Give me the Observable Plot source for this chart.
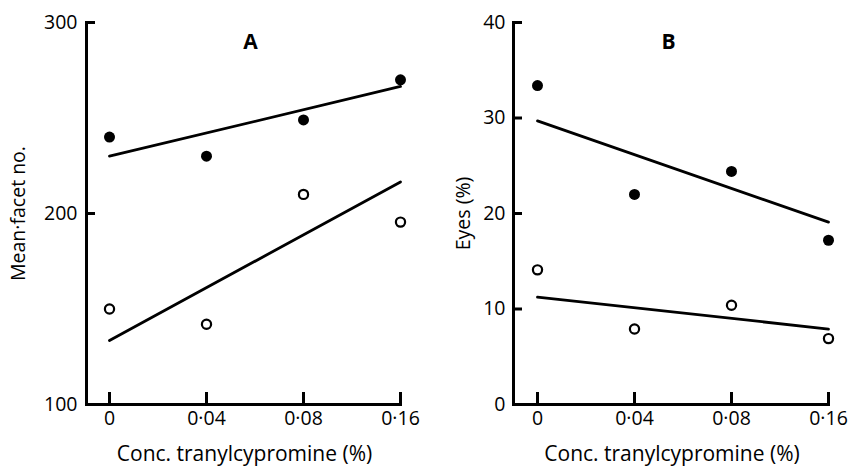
<!DOCTYPE html>
<html>
<head>
<meta charset="utf-8">
<script src="https://cdn.jsdelivr.net/npm/d3@7"></script>
<script src="https://cdn.jsdelivr.net/npm/@observablehq/plot@0.6"></script>
<style>
  html, body { margin: 0; padding: 0; background: #fff; }
  #wrap { position: relative; width: 851px; height: 469px; overflow: hidden; }
  .panel { position: absolute; top: 0; }
  .panel svg { font-family: "Open Sans", sans-serif; font-size: 19.5px; }
</style>
</head>
<body>
<div id="wrap">
  <div id="pa" class="panel" style="left:0px"></div>
  <div id="pb" class="panel" style="left:430px"></div>
</div>
<script>
// ---- data ----
const concLabels = ["0", "0·04", "0·08", "0·16"];

// Panel A: mean facet number
const facetFilled = [240, 230, 249, 270];
const facetOpen   = [150, 142, 210, 195.5];
const facetLineFilled = [230, 266.5];   // fitted line at 0 and 0·16
const facetLineOpen   = [133.5, 216.5];
const facetTicks = [100, 200, 300];

// Panel B: eyes (%)
const eyesFilled = [33.4, 22.0, 24.4, 17.2];
const eyesOpen   = [14.1, 7.9, 10.4, 6.9];
const eyesLineFilled = [29.7, 19.1];
const eyesLineOpen   = [11.25, 7.9];
const eyesTicks = [0, 10, 20, 30, 40];

const xTitle = "Conc. tranylcypromine (%)";

function pts(vals) { return vals.map((v, i) => ({c: concLabels[i], v})); }
function ends(vals) { return [{c: concLabels[0], v: vals[0]}, {c: concLabels[concLabels.length - 1], v: vals[1]}]; }

const H = 469, MT = 22, MB = 65;
const FH = H - MT - MB;

function panel(o) {
  const fw = o.width - o.marginLeft - o.marginRight;
  return Plot.plot({
    width: o.width, height: H,
    marginLeft: o.marginLeft, marginRight: o.marginRight, marginTop: MT, marginBottom: MB,
    x: {type: "point", domain: concLabels, range: o.xRange, padding: 0},
    y: {domain: o.yDomain},
    marks: [
      // spines
      Plot.frame({anchor: "left", strokeWidth: 3, stroke: "black"}),
      Plot.ruleY([o.yDomain[0]], {strokeWidth: 3, stroke: "black"}),
      // inward ticks
      Plot.tickY(o.yTicks, {y: d => d, insetRight: fw - 9, stroke: "black", strokeWidth: 3}),
      Plot.tickX(concLabels, {x: d => d, insetTop: FH - 12, stroke: "black", strokeWidth: 3}),
      // tick labels
      Plot.axisY(o.yTicks, {tickSize: 0, tickPadding: o.yPad, fontSize: 19.5, label: null}),
      Plot.axisX(concLabels, {tickSize: 0, tickPadding: 7, fontSize: 19.5, label: null}),
      // axis titles
      Plot.text([o.yLabel], {frameAnchor: "left", dx: o.yLabelDx, rotate: -90, textAnchor: "middle", lineAnchor: "middle", fontSize: 19.5}),
      Plot.text([xTitle], {frameAnchor: "bottom", dy: 50, textAnchor: "middle", lineAnchor: "middle", fontSize: 21}),
      // panel letter
      Plot.text([o.letter], {frameAnchor: "top-left", dx: o.letterDx, dy: 20, textAnchor: "middle", lineAnchor: "middle", fontSize: 21, fontWeight: "bold"}),
      // fitted lines
      Plot.line(ends(o.lineF), {x: "c", y: "v", stroke: "black", strokeWidth: 2.8}),
      Plot.line(ends(o.lineO), {x: "c", y: "v", stroke: "black", strokeWidth: 2.8}),
      // points
      Plot.dot(pts(o.filled), {x: "c", y: "v", r: 5.5, fill: "black", stroke: "none"}),
      Plot.dot(pts(o.open), {x: "c", y: "v", r: 4.6, fill: "white", stroke: "black", strokeWidth: 2.2})
    ]
  });
}

document.getElementById("pa").append(panel({
  width: 430, marginLeft: 86, marginRight: 28, xRange: [108, 400],
  yDomain: [100, 300], yTicks: facetTicks,
  filled: facetFilled, open: facetOpen, lineF: facetLineFilled, lineO: facetLineOpen,
  yLabel: "Mean·facet no.", yLabelDx: -68, letter: "A", letterDx: 164, yPad: 9
}));

document.getElementById("pb").append(panel({
  width: 421, marginLeft: 83, marginRight: 21, xRange: [106, 398],
  yDomain: [0, 40], yTicks: eyesTicks,
  filled: eyesFilled, open: eyesOpen, lineF: eyesLineFilled, lineO: eyesLineOpen,
  yLabel: "Eyes (%)", yLabelDx: -50, letter: "B", letterDx: 155, yPad: 8
}));
</script>
</body>
</html>
